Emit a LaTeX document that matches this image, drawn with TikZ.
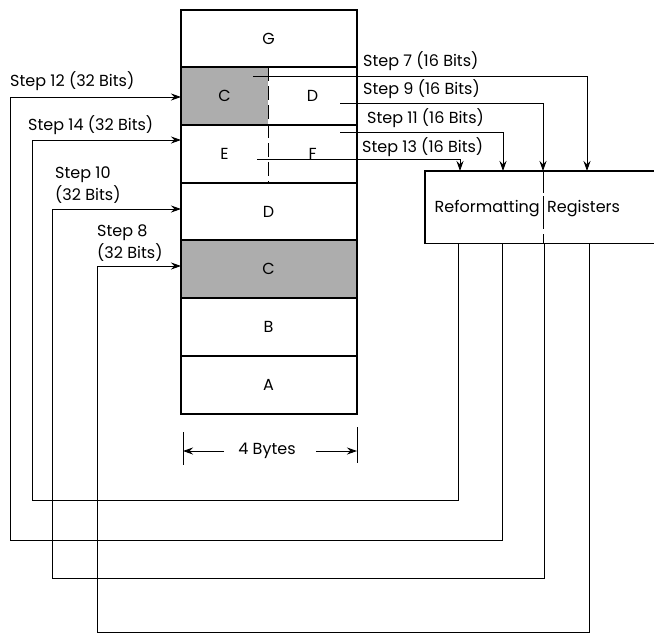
\documentclass[tikz,border=0pt]{standalone}
\usepackage{fontspec}
\setmainfont{Poppins}
\usetikzlibrary{arrows.meta,positioning}

\tikzset{
  lbl/.style={font=\fontsize{16}{22}\selectfont, inner sep=0pt},
  cell/.style={draw, line width=1pt, minimum width=175pt, minimum height=56.7pt, inner sep=0pt, lbl},
  halfcell/.style={minimum width=87.5pt, minimum height=56.7pt, inner sep=0pt, lbl},
  dotfill/.style={fill=black!32},
  divider/.style={line width=0.9pt, dash pattern=on 14pt off 5pt},
  regdivider/.style={line width=0.9pt, dash pattern=on 22pt off 3pt on 33pt off 5pt},
  link/.style={line width=0.9pt},
  steparrow/.style={-{Stealth[length=10pt,width=7pt]}},
}

\begin{document}
\begin{tikzpicture}[x=1pt,y=-1pt]
  \useasboundingbox (0,0) rectangle (654,633);

  % The storage column, one row per word
  \node[cell] (g) at (268.5,38.5) {G};
  \node[halfcell, dotfill, anchor=north west] (cl) at (g.south west) {C};
  \node[cell, below=0pt of g] (cd) {};
  \node[halfcell, anchor=east] (dr) at (cd.east) {D};
  \node[cell, below=0pt of cd] (ef) {};
  \node[halfcell, anchor=west] (el) at (ef.west) {E};
  \node[halfcell, anchor=east] (fr) at (ef.east) {F};
  \node[cell, below=0pt of ef] (d) {D};
  \node[cell, dotfill, below=0pt of d] (c) {C};
  \node[cell, below=0pt of c] (b) {B};
  \node[cell, below=0pt of b] (a) {A};

  % Halfword divider and heavy outline
  \draw[divider] (cd.north) -- (ef.south);
  \draw[line width=2pt] (g.north west) rectangle (a.south east);

  % Width of the column
  \node[lbl] (bytes) at (267,451) {4 Bytes};
  \draw[link] (183,432) -- (183,465);
  \draw[link] (357,427) -- (357,463);
  \draw[link, steparrow] ([xshift=-14pt]bytes.west) -- (183,451);
  \draw[link, steparrow] ([xshift=20pt]bytes.east) -- (357,451);

  % The registers, open at the right
  \node[anchor=north west, minimum width=229pt, minimum height=72pt, inner sep=0pt] (reg) at (425,171) {};
  \draw[line width=1.6pt] (reg.north east) -- (reg.north west) -- (reg.south west) -- (reg.south east);
  \draw[regdivider] (543,171) -- (543,243);
  \node[lbl, anchor=base east] (reform) at (540,212) {Reformatting};
  \node[lbl, anchor=base west] (regs) at (547,212) {Registers};

  % Halfword loads into the registers
  \coordinate (s7) at (253,76);
  \coordinate (s9) at (340,103);
  \coordinate (s11) at (340,132);
  \coordinate (s13) at (257,159);
  \coordinate (r7) at (587,171);
  \coordinate (r9) at (543,171);
  \coordinate (r11) at (503,171);
  \coordinate (r13) at (460,171);
  \draw[link, steparrow] (s7) -| (r7);
  \draw[link, steparrow] (s9) -| (r9);
  \draw[link, steparrow] (s11) -| (r11);
  \draw[link, steparrow] (s13) -| (r13);
  \node[lbl, anchor=base west] (l7) at (363,66) {Step 7 (16 Bits)};
  \node[lbl, anchor=base west] (l9) at (363,94) {Step 9 (16 Bits)};
  \node[lbl, anchor=base west] (l11) at (367,123) {Step 11 (16 Bits)};
  \node[lbl, anchor=base west] (l13) at (362,152) {Step 13 (16 Bits)};

  % Fullword stores back into the column
  \coordinate (q14) at (458,243);
  \coordinate (q12) at (502,243);
  \coordinate (q10) at (544,243);
  \coordinate (q8) at (589,243);
  \coordinate (t14) at (181,140);
  \coordinate (t12) at (181,97);
  \coordinate (t10) at (181,209);
  \coordinate (t8) at (181,266);
  \draw[link, steparrow] (q14) -- (458,500) -| (32,140) -- (t14);
  \draw[link, steparrow] (q12) -- (502,540) -| (10,97) -- (t12);
  \draw[link, steparrow] (q10) -- (544,578) -| (52,209) -- (t10);
  \draw[link, steparrow] (q8) -- (589,632) -| (97,266) -- (t8);
  \node[lbl, anchor=base west] (l12) at (10,86) {Step 12 (32 Bits)};
  \node[lbl, anchor=base west] (l14) at (28,130) {Step 14 (32 Bits)};
  \node[lbl, anchor=north west, align=left] (l10) at (55,167) {Step 10\\(32 Bits)};
  \node[lbl, anchor=north west, align=left] (l8) at (97,225) {Step 8\\(32 Bits)};

\end{tikzpicture}
\end{document}
